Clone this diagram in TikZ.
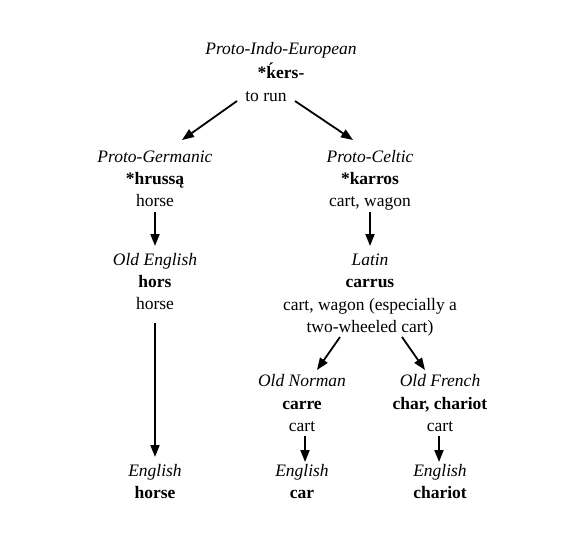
\documentclass[tikz,border=0pt]{standalone}
\usepackage{fontspec}
\setmainfont{Liberation Serif}
\usetikzlibrary{arrows.meta,calc}
\begin{document}
\begin{tikzpicture}[x=1pt,y=-1pt,
  txt/.style={anchor=base,inner sep=0pt,font=\fontsize{17.5}{20}\selectfont},
  lang/.style={txt,font=\fontsize{17.5}{20}\selectfont\itshape},
  word/.style={txt,font=\fontsize{17.5}{20}\selectfont\bfseries},
  arr/.style={line width=1.8pt,-{Triangle[length=12pt,width=9pt]}}]
\useasboundingbox (0,0) rectangle (583,543);
% PIE
\node[lang] (pie1) at (281,55) {Proto-Indo-European};
\node[word] (pie2) at (281,78) {*\'{k}ers-};
\node[txt]  (pie3) at (266,101) {to run};
% Proto-Germanic
\node[lang] (pg1) at (155,162) {Proto-Germanic};
\node[word] (pg2) at (155,184) {*hrussą};
\node[txt]  (pg3) at (155,206) {horse};
% Proto-Celtic
\node[lang] (pc1) at (370,162) {Proto-Celtic};
\node[word] (pc2) at (370,184) {*karros};
\node[txt]  (pc3) at (370,206) {cart, wagon};
% Old English
\node[lang] (oe1) at (155,265) {Old English};
\node[word] (oe2) at (155,287) {hors};
\node[txt]  (oe3) at (155,309) {horse};
% Latin
\node[lang] (la1) at (370,265) {Latin};
\node[word] (la2) at (370,287) {carrus};
\node[txt]  (la3) at (370,310) {cart, wagon (especially a};
\node[txt]  (la4) at (370,332) {two-wheeled cart)};
% Old Norman
\node[lang] (on1) at (302,386) {Old Norman};
\node[word] (on2) at (302,409) {carre};
\node[txt]  (on3) at (302,431) {cart};
% Old French
\node[lang] (of1) at (440,386) {Old French};
\node[word] (of2) at (440,409) {char, chariot};
\node[txt]  (of3) at (440,431) {cart};
% English
\node[lang] (en1) at (155,476) {English};
\node[word] (en2) at (155,498) {horse};
\node[lang] (ec1) at (302,476) {English};
\node[word] (ec2) at (302,498) {car};
\node[lang] (eh1) at (440,476) {English};
\node[word] (eh2) at (440,498) {chariot};
% arrows
\draw[arr] ($(pie3.base)+(-29,0)$) -- ($(pg1.base)+(27,-22)$);
\draw[arr] ($(pie3.base)+(29,0)$) -- ($(pc1.base)+(-17,-22)$);
\draw[arr] ($(pg3.base)+(0,6)$) -- ($(oe1.base)+(0,-19)$);
\draw[arr] ($(pc3.base)+(0,6)$) -- ($(la1.base)+(0,-19)$);
\draw[arr] ($(oe3.base)+(0,14)$) -- ($(en1.base)+(0,-19)$);
\draw[arr] ($(la4.base)+(-30,5)$) -- ($(on1.base)+(15,-16)$);
\draw[arr] ($(la4.base)+(32,5)$) -- ($(of1.base)+(-15,-16)$);
\draw[arr] ($(on3.base)+(3,5)$) -- ($(ec1.base)+(3,-14)$);
\draw[arr] ($(of3.base)+(-1,5)$) -- ($(eh1.base)+(-1,-14)$);
\end{tikzpicture}
\end{document}
